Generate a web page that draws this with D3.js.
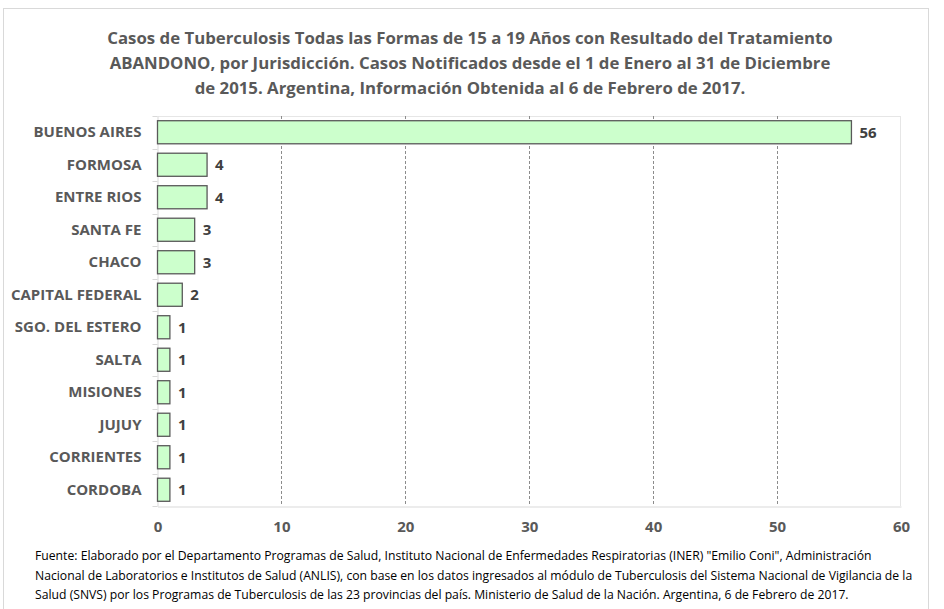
<!DOCTYPE html>
<html lang="es">
<head>
<meta charset="UTF-8">
<title>Abandono TB 15-19 años</title>
<style>
  body { margin: 0; background: #fff; }
  svg { display: block; }
  svg text { font-family: "Open Sans", Lato, sans-serif; }
</style>
</head>
<body>
<div id="chart"></div>
<script src="https://d3js.org/d3.v7.min.js"></script>
<script>
// datos
const jurisdicciones = ["BUENOS AIRES", "FORMOSA", "ENTRE RIOS", "SANTA FE", "CHACO", "CAPITAL FEDERAL",
  "SGO. DEL ESTERO", "SALTA", "MISIONES", "JUJUY", "CORRIENTES", "CORDOBA"];
const casos = [56, 4, 4, 3, 3, 2, 1, 1, 1, 1, 1, 1];
const ejeTicks = [0, 10, 20, 30, 40, 50, 60];

const titulo = [
  "Casos de Tuberculosis Todas las Formas de 15 a 19 Años con Resultado del Tratamiento",
  "ABANDONO, por Jurisdicción. Casos Notificados desde el 1 de Enero al 31 de Diciembre",
  "de 2015. Argentina, Información Obtenida al 6 de Febrero de 2017."
];
const fuente = [
  "Fuente: Elaborado por el Departamento Programas de Salud, Instituto Nacional de Enfermedades Respiratorias (INER) \"Emilio Coni\", Administración",
  "Nacional de Laboratorios e Institutos de Salud (ANLIS), con base en los datos ingresados al módulo de Tuberculosis del Sistema Nacional de Vigilancia de la",
  "Salud (SNVS) por los Programas de Tuberculosis de las 23 provincias del país. Ministerio de Salud de la Nación. Argentina, 6 de Febrero de 2017."
];

const W = 944, H = 609;
const plot = { left: 157.5, right: 901, top: 116, bottom: 506 };

const svg = d3.select("#chart").append("svg").attr("width", W).attr("height", H);

// marco exterior
svg.append("rect")
  .attr("x", 3.5).attr("y", 8.5).attr("width", 925).attr("height", 620)
  .attr("fill", "none").attr("stroke", "#d9d9d9");

// titulo
svg.append("g").selectAll("text").data(titulo).join("text")
  .attr("x", 470).attr("y", (d, i) => 44 + i * 25)
  .attr("text-anchor", "middle")
  .style("font-size", "16.8px").style("font-weight", "bold").style("fill", "#595959")
  .text(d => d);

const x = d3.scaleLinear().domain([0, 60]).range([plot.left, plot.right]);
const y = d3.scaleBand().domain(jurisdicciones).range([plot.top, plot.bottom]).paddingInner(0.29).paddingOuter(0.145);

// borde del area de grafico
svg.append("line").attr("x1", plot.left).attr("x2", plot.right).attr("y1", plot.top + 0.5).attr("y2", plot.top + 0.5)
  .attr("stroke", "#e6e6e6");
svg.append("line").attr("x1", plot.right - 0.5).attr("x2", plot.right - 0.5).attr("y1", plot.top).attr("y2", plot.bottom)
  .attr("stroke", "#e6e6e6");

// lineas de grilla punteadas
svg.append("g").selectAll("line").data(ejeTicks.filter(t => t > 0 && t < 60)).join("line")
  .attr("x1", d => Math.round(x(d)) + 0.5).attr("x2", d => Math.round(x(d)) + 0.5)
  .attr("y1", plot.top).attr("y2", plot.bottom)
  .attr("stroke", "#8c8c8c").attr("stroke-dasharray", "3,2").attr("stroke-width", 1);

// eje x
const xAxis = svg.append("g").attr("transform", `translate(0,${plot.bottom + 0.5})`)
  .call(d3.axisBottom(x).tickValues(ejeTicks).tickSize(0).tickPadding(15))
  .attr("font-family", null);
xAxis.select(".domain").attr("stroke", "#d9d9d9");
xAxis.selectAll("text").style("font-size", "15px").style("font-weight", "bold").style("fill", "#595959");

// eje y
const yAxis = svg.append("g").attr("transform", `translate(${plot.left},0)`)
  .call(d3.axisLeft(y).tickSize(0).tickPadding(16))
  .attr("font-family", null);
yAxis.select(".domain").attr("stroke", "#d9d9d9");
yAxis.selectAll("text").style("font-size", "15px").style("font-weight", "bold").style("fill", "#595959");

// marcas entre categorias
svg.append("g").selectAll("line").data(d3.range(jurisdicciones.length + 1)).join("line")
  .attr("x1", plot.left - 5).attr("x2", plot.left)
  .attr("y1", i => Math.round(plot.top + i * y.step()) + 0.5)
  .attr("y2", i => Math.round(plot.top + i * y.step()) + 0.5)
  .attr("stroke", "#d9d9d9");

// barras
const datos = jurisdicciones.map((j, i) => ({ j, v: casos[i] }));
svg.append("g").selectAll("rect").data(datos).join("rect")
  .attr("x", x(0)).attr("y", d => y(d.j))
  .attr("width", d => x(d.v) - x(0)).attr("height", y.bandwidth())
  .attr("fill", "#ccffcc").attr("stroke", "#595959").attr("stroke-width", 1.3);

// etiquetas de valor
svg.append("g").selectAll("text").data(datos).join("text")
  .attr("x", d => x(d.v) + 8).attr("y", d => y(d.j) + y.bandwidth() / 2)
  .attr("dy", "0.36em")
  .style("font-size", "15px").style("font-weight", "bold").style("fill", "#404040")
  .text(d => d.v);

// fuente
svg.append("g").selectAll("text").data(fuente).join("text")
  .attr("x", 35).attr("y", (d, i) => 560 + i * 19.5)
  .style("font-size", "12.2px").style("fill", "#000")
  .text(d => d);
</script>
</body>
</html>
